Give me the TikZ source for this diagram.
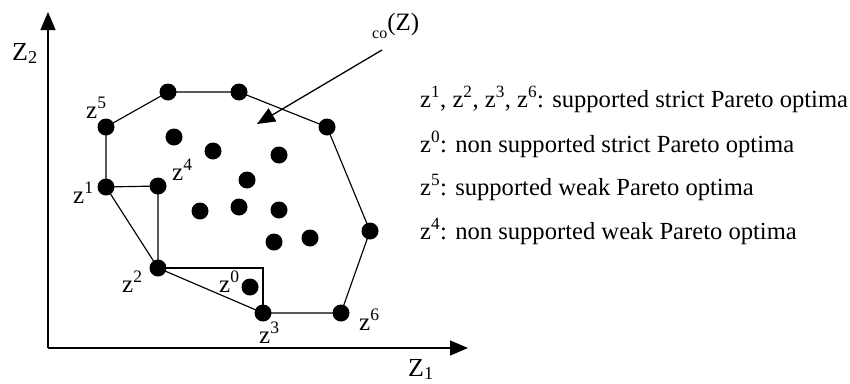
\documentclass[tikz,border=0pt]{standalone}
\usepackage{fontspec}
\setmainfont{Liberation Serif}
\usepackage{tikz}
\usetikzlibrary{arrows.meta,positioning}

\begin{document}
\begin{tikzpicture}[
    x = 1pt, y = -1pt,
    every node/.style = {font=\fontsize{25}{29}\selectfont, inner sep=0pt},
    dot/.style = {
        circle,
        fill=black,
        minimum size=17pt
    },
    lbl/.style = {anchor=base west},
    legend/.style = {anchor=base west, font=\fontsize{24.6}{29}\selectfont},
    axis/.style = {
        -{Triangle[length=18pt,width=15pt]},
        line width=1.3pt
    },
    hull/.style = {line width=1.15pt},
    pointer/.style = {
        -{Triangle[length=18pt,width=15pt]},
        line width=1.3pt
    }
]

\useasboundingbox (0,0) rectangle (850,383);

% axes
\coordinate (origin) at (48,348);
\coordinate (ytip) at (48,12);
\coordinate (xtip) at (468,348);
\draw[axis] (origin) -- (ytip);
\draw[axis] (origin) -- (xtip);
\node[lbl, font=\fontsize{26}{30}\selectfont] (zaxis2) at (12,60) {Z\textsubscript{2}};
\node[lbl, font=\fontsize{26}{30}\selectfont] (zaxis1) at (408,376) {Z\textsubscript{1}};

% hull points
\node[dot] (z5) at (106,127) {};
\node[dot] (h1) at (168,92) {};
\node[dot] (h2) at (239,92) {};
\node[dot] (h3) at (327,127) {};
\node[dot] (h4) at (370,231) {};
\node[dot] (z6) at (341,313) {};
\node[dot] (z3) at (263,313) {};
\node[dot] (z2) at (158,268) {};
\node[dot] (z1) at (106,187) {};
\node[dot] (z4) at (158,186) {};
\node[dot] (z0) at (250,287) {};
\coordinate (corner) at (263,268);

% interior points
\node[dot] (p1) at (174,137) {};
\node[dot] (p2) at (213,151) {};
\node[dot] (p3) at (279,155) {};
\node[dot] (p4) at (247,180) {};
\node[dot] (p5) at (200,211) {};
\node[dot] (p6) at (239,207) {};
\node[dot] (p7) at (279,210) {};
\node[dot] (p8) at (274,242) {};
\node[dot] (p9) at (310,238) {};

\draw[hull] (z1.center) -- (z5.center) -- (h1.center) -- (h2.center) -- (h3.center)
    -- (h4.center) -- (z6.center) -- (z3.center) -- (z2.center) -- (z1.center);
\draw[hull] (z1.center) -- (z4.center) -- (z2.center);
\draw[hull] (z2.center) -- (corner) -- (z3.center);

% point labels
\node[lbl] (lz5) at (86,118) {z\textsuperscript{5}};
\node[lbl] (lz1) at (73,203) {z\textsuperscript{1}};
\node[lbl] (lz4) at (172,180) {z\textsuperscript{4}};
\node[lbl] (lz2) at (122,292) {z\textsuperscript{2}};
\node[lbl] (lz0) at (219,292) {z\textsuperscript{0}};
\node[lbl] (lz3) at (259,343) {z\textsuperscript{3}};
\node[lbl] (lz6) at (359,330) {z\textsuperscript{6}};

% co(Z)
\node[lbl, font=\fontsize{25}{29}\selectfont] (coz) at (372,30)
    {\raisebox{-8pt}{\fontsize{16}{16}\selectfont co}(Z)};
\coordinate (cotail) at (382,50);
\coordinate (cohead) at (257,124);
\draw[pointer] (cotail) -- (cohead);

% legend
\node[legend] (leg1) at (420,107) {z\textsuperscript{1}, z\textsuperscript{2}, z\textsuperscript{3}, z\textsuperscript{6}: supported strict Pareto optima};
\node[legend] (leg2) at (420,152) {z\textsuperscript{0}: non supported strict Pareto optima};
\node[legend] (leg3) at (420,195) {z\textsuperscript{5}: supported weak Pareto optima};
\node[legend] (leg4) at (420,239) {z\textsuperscript{4}: non supported weak Pareto optima};

\end{tikzpicture}
\end{document}
